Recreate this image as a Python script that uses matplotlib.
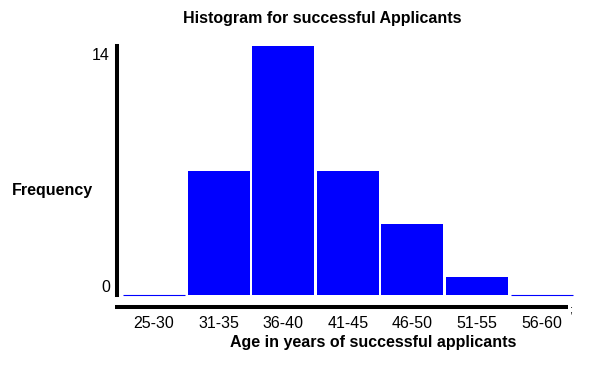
import matplotlib

matplotlib.use("Agg")
import matplotlib.pyplot as plt
from matplotlib.lines import Line2D

# ---------------------------------------------------------------------------
# Data
# ---------------------------------------------------------------------------
age_groups = ["25-30", "31-35", "36-40", "41-45", "46-50", "51-55", "56-60"]
frequency = [0, 7, 14, 7, 4, 1, 0]
y_ticks = [0, 14]

plt.rcParams["font.family"] = ["Liberation Sans", "DejaVu Sans"]

W, H = 596, 365
fig = plt.figure(figsize=(W / 100, H / 100), dpi=100)


def fx(px):
    return px / W


def fy(py):
    return 1 - py / H


# axes box in pixels: left 117, right 575, top 46, bottom 295
ax = fig.add_axes([fx(117), fy(295), fx(575 - 117), (295 - 46) / H])

xs = list(range(len(age_groups)))
# empty classes still show as a thin blue line on the baseline
edge_w = [0.8 if f == 0 else 0 for f in frequency]
ax.bar(xs, frequency, width=0.96, color="#0000ff", edgecolor="#0000ff",
       linewidth=edge_w, clip_on=False)
ax.set_xlim(-0.573, 6.517)
ax.set_ylim(0, 14)

for side in ("top", "right", "bottom"):
    ax.spines[side].set_visible(False)
ax.spines["left"].set_linewidth(2.9)
ax.spines["left"].set_color("black")

ax.set_xticks(xs)
ax.set_xticklabels(age_groups, fontsize=11.5)
ax.tick_params(axis="x", length=0, pad=15)
ax.set_yticks([])

# y tick labels, nudged inward like the original
for v, dy in zip(y_ticks, [8, -9]):
    ax.annotate(str(v), xy=(0, v), xycoords=("axes fraction", "data"),
                xytext=(-7, dy), textcoords="offset pixels",
                ha="right", va="center", fontsize=11.5)

# detached x-axis bar
fig.add_artist(Line2D([fx(115), fx(568)], [fy(307), fy(307)],
                      color="black", linewidth=2.9, solid_capstyle="butt"))
fig.text(fx(571), fy(309), ";", fontsize=8, ha="center", va="center")

fig.text(fx(322), fy(18), "Histogram for successful Applicants",
         fontsize=11.5, fontweight="bold", ha="center", va="center")
fig.text(fx(373), fy(343), "Age in years of successful applicants",
         fontsize=11.5, fontweight="bold", ha="center", va="center")
fig.text(fx(12), fy(190), "Frequency",
         fontsize=11.5, fontweight="bold", ha="left", va="center")

fig.savefig("out.png", dpi=100)
